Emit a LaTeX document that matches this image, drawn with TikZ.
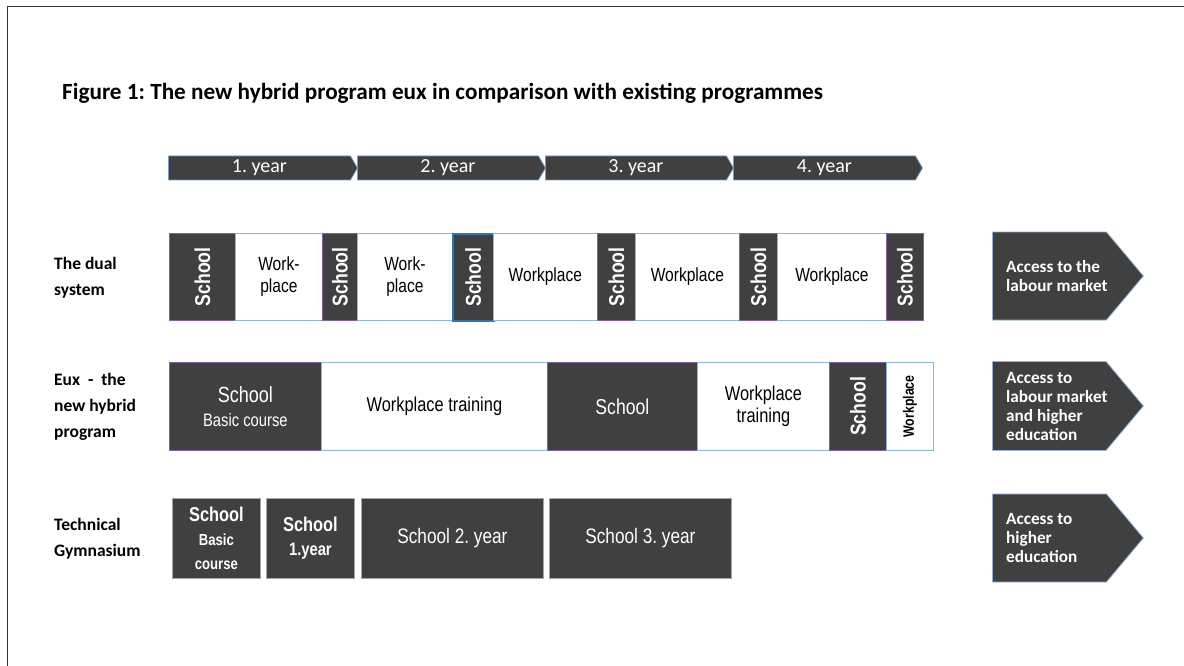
\documentclass[tikz,border=0pt]{standalone}
\usepackage{fontspec}
\usepackage{graphicx}
\setmainfont{Carlito}
\newfontfamily\nar[FakeStretch=0.82]{Liberation Sans}
\usetikzlibrary{shapes.symbols}
\frenchspacing
\definecolor{dk}{HTML}{404040}
\definecolor{lb}{HTML}{8EB4E3}
\definecolor{pu}{HTML}{7F63A1}
\definecolor{bl}{HTML}{2E75B6}
\definecolor{ar}{HTML}{4F81BD}
\newcommand\cell[7]{\node[#6, minimum width={#3pt-#2pt}, minimum height={#5pt-#4pt}, anchor=north west] (#1) at (#2,#4) {#7};}
\newcommand\sch{\rotatebox{90}{\bfseries School}}
\tikzset{
  dkc/.style={fill=dk, draw=pu, line width=0.8pt, text=white, inner sep=0pt, align=center, font=\nar\fontsize{21.5}{24}\selectfont},
  wc/.style={fill=white, draw=lb, line width=0.8pt, text=black, inner sep=0pt, align=center, font=\nar\fontsize{19}{22}\selectfont},
  gc/.style={fill=dk, draw=black!35, line width=0.8pt, text=white, inner sep=0pt, align=center, font=\nar\fontsize{21}{24}\selectfont},
  yr/.style={signal, signal to=east, signal pointer angle=120, fill=dk, draw=ar!80, line width=0.8pt, text=white, inner sep=0pt, minimum height=24pt, font=\fontsize{20}{22}\selectfont},
  ra/.style={signal, signal to=east, signal pointer angle=100, fill=dk, draw=ar!60, line width=0.8pt, inner sep=0pt, minimum width=151pt},
  ratext/.style={anchor=west, inner sep=0pt, text=white, align=left, font=\bfseries\fontsize{17.2}{19}\selectfont},
  lab/.style={anchor=west, inner sep=0pt, text=black, align=left, font=\bfseries\fontsize{17.5}{26}\selectfont},
}
\begin{document}
\begin{tikzpicture}[x=1pt,y=-1pt]
\useasboundingbox (0,0) rectangle (1184,666);
\draw[line width=1pt, black!80] (7,666) -- (7,7) -- (1184,7);
\node[anchor=base west, inner sep=0pt, font=\bfseries\fontsize{23.2}{26}\selectfont] (title) at (62,100) {Figure 1: The new hybrid program eux in comparison with existing programmes};
% years
\node[yr, minimum width=189pt, anchor=west] (y1) at (168,168) {1. year};
\node[yr, minimum width=188pt, anchor=west] (y2) at (357,168) {2. year};
\node[yr, minimum width=188pt, anchor=west] (y3) at (545,168) {3. year};
\node[yr, minimum width=189pt, anchor=west] (y4) at (733,168) {4. year};
% left labels
\node[lab] (l1) at (54,278) {The dual\\system};
\node[lab] (l2) at (54,407) {Eux \ - \ the\\new hybrid\\program};
\node[lab] (l3) at (54,539) {Technical\\Gymnasium};
% dual system
\cell{d1}{169}{235}{233}{320}{dkc}{\sch}
\cell{d2}{235}{322}{233}{320}{wc}{Work-\\place}
\cell{d3}{322}{357}{233}{320}{dkc}{\sch}
\cell{d4}{357}{452}{233}{320}{wc}{Work-\\place}
\cell{d5}{452}{493}{233}{320}{dkc, draw=bl, line width=1.5pt}{\sch}
\cell{d6}{493}{597}{233}{320}{wc}{Workplace}
\cell{d7}{597}{635}{233}{320}{dkc}{\sch}
\cell{d8}{635}{739}{233}{320}{wc}{Workplace}
\cell{d9}{739}{777}{233}{320}{dkc}{\sch}
\cell{d10}{777}{886}{233}{320}{wc}{Workplace}
\cell{d11}{886}{923}{233}{320}{dkc}{\sch}
% eux
\cell{e1}{169}{321}{362}{450}{dkc}{{\fontsize{22}{25}\selectfont School}\\{\fontsize{18}{20}\selectfont Basic course}}
\cell{e2}{321}{547}{362}{450}{wc, font=\nar\fontsize{20}{22}\selectfont}{Workplace training}
\cell{e3}{547}{697}{362}{450}{dkc}{School}
\cell{e4}{697}{829}{362}{450}{wc}{{\fontsize{20}{25}\selectfont Workplace}\\{\fontsize{20}{25}\selectfont training}}
\cell{e5}{829}{886}{362}{450}{dkc}{\sch}
\cell{e6}{886}{933}{362}{450}{wc, font=\nar\fontsize{15}{18}\selectfont}{\rotatebox{90}{\bfseries Workplace}}
% technical gymnasium
\cell{g1}{172}{260}{498}{578}{gc}{{\bfseries\fontsize{20}{24}\selectfont School}\\{\bfseries\fontsize{16}{23}\selectfont Basic}\\{\bfseries\fontsize{16}{23}\selectfont course}}
\cell{g2}{266}{354}{498}{578}{gc}{{\bfseries\fontsize{20}{25}\selectfont School}\\{\bfseries\fontsize{18}{25}\selectfont 1.year}}
\cell{g3}{361}{543}{498}{578}{gc}{School 2. year}
\cell{g4}{549}{731}{498}{578}{gc}{School 3. year}
% access arrows
\node[ra, minimum height=88pt, anchor=west] (r1) at (992,276) {};
\node[ra, minimum height=89pt, anchor=west] (r2) at (992,406) {};
\node[ra, minimum height=88pt, anchor=west] (r3) at (992,538) {};
\node[ratext] (t1) at (1006,276) {Access to the\\labour market};
\node[ratext] (t2) at (1006,406) {Access to\\labour market\\and higher\\education};
\node[ratext] (t3) at (1006,538) {Access to\\higher\\education};
\end{tikzpicture}
\end{document}
